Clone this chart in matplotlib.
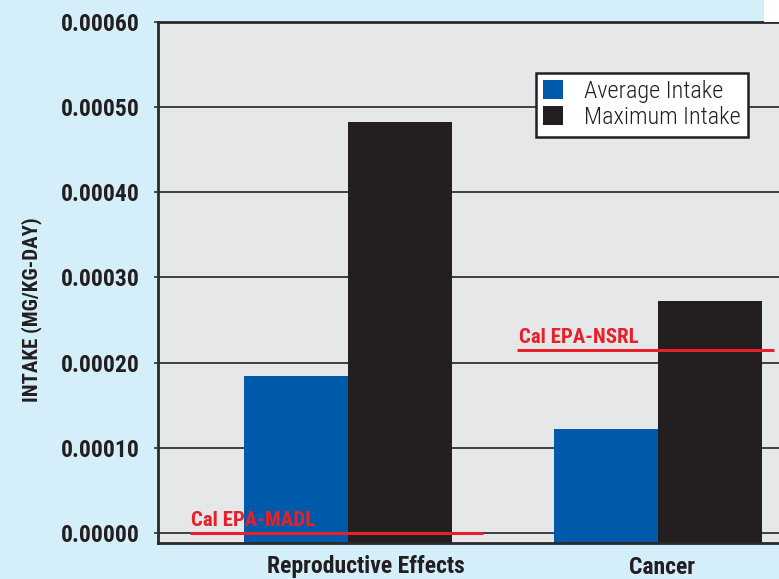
import numpy as np
import matplotlib
matplotlib.use('Agg')
import matplotlib.pyplot as plt
import matplotlib.transforms as mtransforms
from matplotlib.patches import Rectangle

# data
categories = ['Reproductive Effects', 'Cancer']
average_intake = [0.000184, 0.000122]
maximum_intake = [0.000482, 0.000272]
limit_names = ['Cal EPA-MADL', 'Cal EPA-NSRL']
limit_values = [0.0000005, 0.000215]
y_ticks = [0.0, 0.0001, 0.0002, 0.0003, 0.0004, 0.0005, 0.0006]

blue = '#005aa9'
black = '#231f20'
red = '#e8202a'
sky = '#d4eefa'
panel = '#e6e7e8'
narrow = ['Roboto Condensed', 'PT Sans Narrow', 'DejaVu Sans']

fig = plt.figure(figsize=(7.79, 5.79), dpi=100, facecolor=sky)
# white corner at top right
fig.patches.append(Rectangle((764 / 779, 0.962), 1, 0.1, transform=fig.transFigure,
                             facecolor='white', edgecolor='none', zorder=0))

ax = fig.add_axes([158 / 779, 36 / 579, 621 / 779, 521 / 579])
ax.set_facecolor(panel)

y_min = -0.0000118
x = np.arange(len(categories))
w = 0.335
ax.bar(x - w / 2, np.array(average_intake) - y_min, w, bottom=y_min,
       color=blue, label='Average Intake', zorder=3)
ax.bar(x + w / 2, np.array(maximum_intake) - y_min, w, bottom=y_min,
       color=black, label='Maximum Intake', zorder=3)

ax.set_xlim(-0.613, 1.390)
ax.set_ylim(y_min, 0.0006)

# gridlines
ax.set_yticks(y_ticks)
ax.set_yticklabels([f'{v:.5f}' for v in y_ticks])
ax.yaxis.grid(True, color='#333333', linewidth=1.3, zorder=1)
ax.set_axisbelow(True)

# limit lines with labels
xmins = [-0.510, 0.545]
xmaxs = [0.435, 1.375]
for name, val, x0, x1 in zip(limit_names, limit_values, xmins, xmaxs):
    ax.hlines(val, x0, x1, color=red, linewidth=2.2, zorder=5)
    ax.text(x0 + 0.005, val + 0.0000035, name, color=red, fontsize=15,
            fontweight='bold', family=narrow, ha='left', va='bottom', zorder=6)

# spines
for s in ['left', 'top', 'bottom']:
    ax.spines[s].set_color('#2a2a2a')
    ax.spines[s].set_linewidth(2)
    ax.spines[s].set_zorder(6)
ax.spines['right'].set_visible(False)

ax.tick_params(axis='y', length=3, width=1.2, color='#333333', pad=10,
               labelsize=17, labelcolor='#231f20')
ax.tick_params(axis='x', length=0, pad=9, labelsize=17, labelcolor='#231f20')
for lab in ax.get_yticklabels():
    lab.set_fontweight('bold')
    lab.set_family(narrow)

ax.set_xticks(x)
ax.set_xticklabels(categories)
label_shift = [18, 4]
for lab, dx in zip(ax.get_xticklabels(), label_shift):
    lab.set_fontweight('bold')
    lab.set_family(narrow)
    lab.set_transform(lab.get_transform() + mtransforms.ScaledTranslation(dx / 100, 0, fig.dpi_scale_trans))

ax.set_ylabel('INTAKE (MG/KG-DAY)', fontsize=15, fontweight='bold', family=narrow,
              color='#231f20')
ax.yaxis.set_label_coords(-0.187, 0.447)

leg = ax.legend(loc='upper left', bbox_to_anchor=((536 - 158) / 621, (543 - 73) / 521),
                frameon=True, fancybox=False,
                prop={'family': narrow, 'size': 17.5, 'weight': 'light'},
                handlelength=0.82, handleheight=0.82, handletextpad=0.85,
                borderpad=0.3, labelspacing=0.12, borderaxespad=0)
leg.get_frame().set_edgecolor('#231f20')
leg.get_frame().set_linewidth(1.8)
leg.get_frame().set_facecolor('white')
leg.get_frame().set_alpha(1)
leg.set_zorder(10)
for t in leg.get_texts():
    t.set_color('#231f20')

fig.savefig('out.png', dpi=100, facecolor=sky)
